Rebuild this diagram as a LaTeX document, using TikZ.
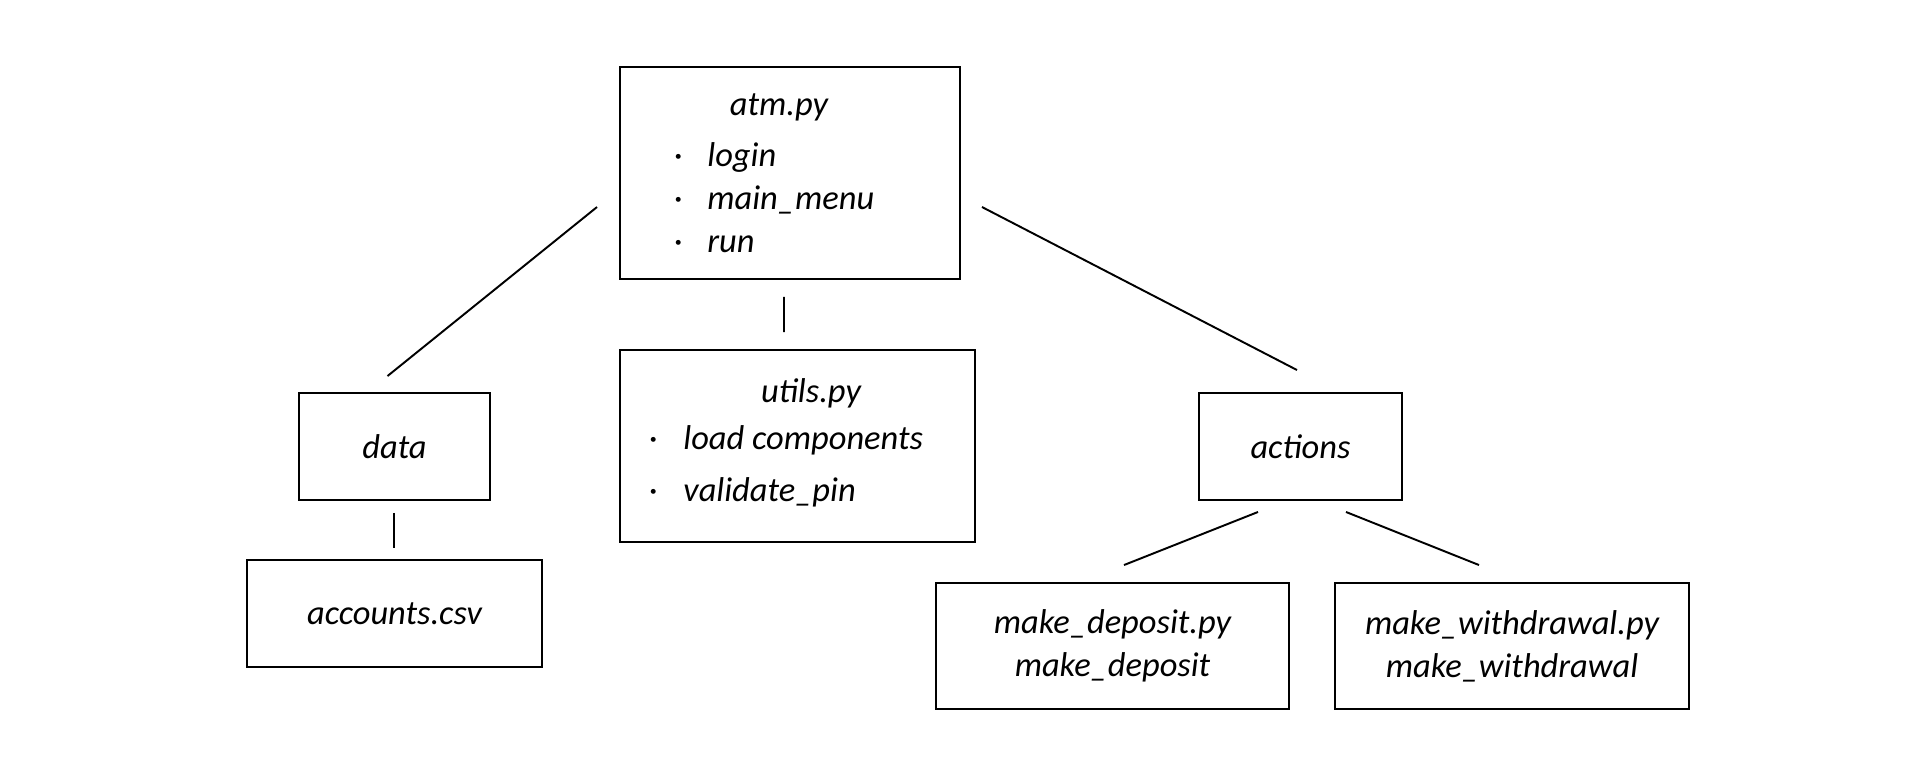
\documentclass[tikz,border=0pt]{standalone}
\usepackage{fontspec}
\setmainfont{Carlito}
\usepackage{tikz}
\usetikzlibrary{calc, positioning}

\tikzset{
    box/.style={draw, rectangle, line width=0.55pt, inner sep=0pt, align=center},
    lbl/.style={font=\itshape\fontsize{9.8}{12.2}\selectfont, inner sep=0pt},
    link/.style={line width=0.55pt}
}

\begin{document}
\begin{tikzpicture}
    \useasboundingbox (0,0) rectangle (19.2,-7.79);

    % top module
    \node[box, minimum width=3.40cm, minimum height=2.12cm] (atm) at (7.90,-1.73) {};
    \node[lbl, anchor=base] (atmtitle) at (7.79,-1.15) {atm.py};
    \foreach \txt [count=\i] in {login, main\_menu, run} {
        \node[lbl, anchor=base west] (atmitem\i) at ($(atm.north west)+(0.54,-0.57-0.43*\i)$) {·\hspace{0.25cm}\txt};
    }

    % second level
    \node[box, minimum width=3.55cm, minimum height=1.92cm] (utils) at (7.975,-4.46) {};
    \node[lbl, anchor=base] (utilstitle) at (8.11,-4.02) {utils.py};
    \foreach \txt [count=\i] in {load components, validate\_pin} {
        \node[lbl, anchor=base west] (utilsitem\i) at ($(utils.north west)+(0.29,-0.48-0.52*\i)$) {·\hspace{0.26cm}\txt};
    }
    \node[box, lbl, minimum width=1.91cm, minimum height=1.07cm] (data) at (3.945,-4.465) {data};
    \node[box, lbl, minimum width=2.03cm, minimum height=1.07cm] (actions) at (13.005,-4.465) {actions};

    % third level
    \node[box, lbl, minimum width=2.95cm, minimum height=1.07cm] (accounts) at (3.945,-6.135) {accounts.csv};
    \node[box, lbl, minimum width=3.53cm, minimum height=1.26cm] (deposit) at (11.125,-6.46) {make\_deposit.py\\make\_deposit};
    \node[box, lbl, minimum width=3.54cm, minimum height=1.26cm] (withdrawal) at (15.12,-6.46) {make\_withdrawal.py\\make\_withdrawal};

    % connectors
    \draw[link] ([xshift=-0.22cm,yshift=-0.34cm]atm.west) -- ([xshift=-0.07cm,yshift=0.16cm]data.north);
    \draw[link] ([xshift=-0.06cm,yshift=-0.17cm]atm.south) -- ([xshift=-0.135cm,yshift=0.17cm]utils.north);
    \draw[link] ([xshift=0.21cm,yshift=-0.34cm]atm.east) -- ([xshift=-0.035cm,yshift=0.22cm]actions.north);
    \draw[link] ([xshift=-0.005cm,yshift=-0.12cm]data.south) -- ([xshift=-0.005cm,yshift=0.11cm]accounts.north);
    \draw[link] ([xshift=-0.425cm,yshift=-0.11cm]actions.south) -- ([xshift=0.115cm,yshift=0.17cm]deposit.north);
    \draw[link] ([xshift=0.455cm,yshift=-0.11cm]actions.south) -- ([xshift=-0.33cm,yshift=0.17cm]withdrawal.north);
\end{tikzpicture}
\end{document}
